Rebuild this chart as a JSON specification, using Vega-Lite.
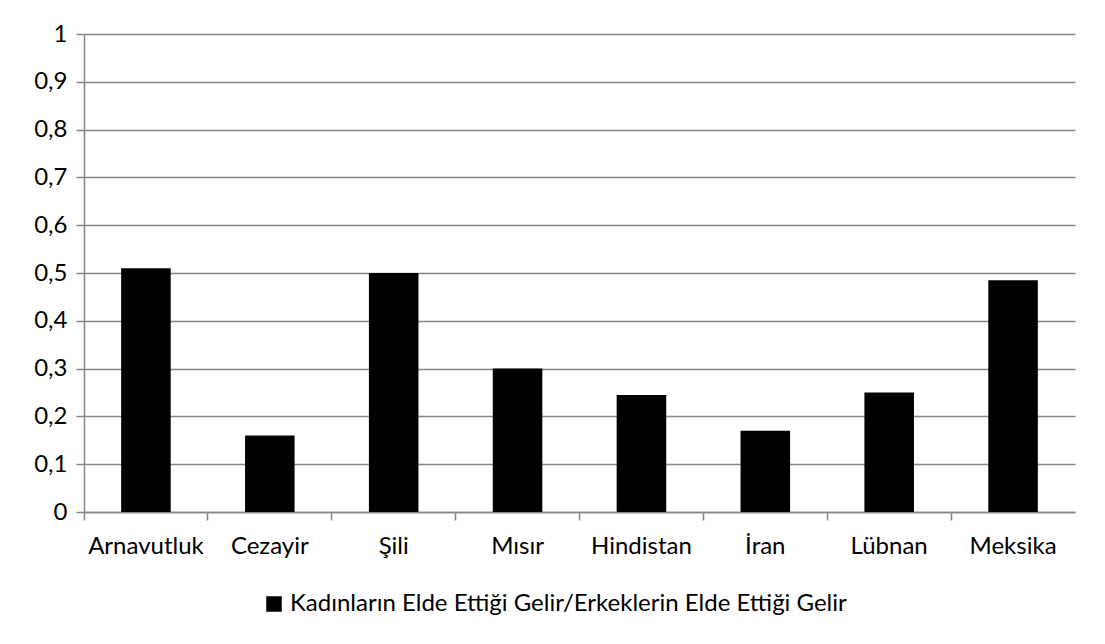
{
  "$schema": "https://vega.github.io/schema/vega-lite/v6.json",
  "width": 991,
  "height": 478,
  "autosize": {"type": "none"},
  "padding": {"left": 84, "top": 34, "right": 30, "bottom": 132},
  "background": "white",
  "data": {
    "values": [
      {"ulke": "Arnavutluk", "deger": 0.51, "seri": "Kadınların Elde Ettiği Gelir/Erkeklerin Elde Ettiği Gelir"},
      {"ulke": "Cezayir", "deger": 0.16, "seri": "Kadınların Elde Ettiği Gelir/Erkeklerin Elde Ettiği Gelir"},
      {"ulke": "Şili", "deger": 0.50, "seri": "Kadınların Elde Ettiği Gelir/Erkeklerin Elde Ettiği Gelir"},
      {"ulke": "Mısır", "deger": 0.30, "seri": "Kadınların Elde Ettiği Gelir/Erkeklerin Elde Ettiği Gelir"},
      {"ulke": "Hindistan", "deger": 0.245, "seri": "Kadınların Elde Ettiği Gelir/Erkeklerin Elde Ettiği Gelir"},
      {"ulke": "İran", "deger": 0.17, "seri": "Kadınların Elde Ettiği Gelir/Erkeklerin Elde Ettiği Gelir"},
      {"ulke": "Lübnan", "deger": 0.25, "seri": "Kadınların Elde Ettiği Gelir/Erkeklerin Elde Ettiği Gelir"},
      {"ulke": "Meksika", "deger": 0.485, "seri": "Kadınların Elde Ettiği Gelir/Erkeklerin Elde Ettiği Gelir"}
    ]
  },
  "mark": {"type": "bar", "width": {"band": 0.4}},
  "encoding": {
    "x": {
      "field": "ulke",
      "type": "nominal",
      "sort": null,
      "scale": {"paddingInner": 0, "paddingOuter": 0},
      "axis": {
        "title": null,
        "labelAngle": 0,
        "bandPosition": 0,
        "labelOffset": 0,
        "ticks": true,
        "tickSize": 8,
        "labelPadding": 14,
        "grid": false
      }
    },
    "y": {
      "field": "deger",
      "type": "quantitative",
      "scale": {"domain": [0, 1], "nice": false},
      "axis": {
        "title": null,
        "values": [0, 0.1, 0.2, 0.3, 0.4, 0.5, 0.6, 0.7, 0.8, 0.9, 1],
        "format": ".1~f",
        "labelExpr": "replace(datum.label, '.', ',')",
        "tickSize": 8,
        "labelPadding": 9,
        "grid": true
      }
    },
    "color": {
      "field": "seri",
      "type": "nominal",
      "scale": {"range": ["#000000"]},
      "legend": {
        "title": null,
        "orient": "none",
        "legendX": 178,
        "legendY": 558,
        "symbolType": "square",
        "symbolSize": 240,
        "symbolStrokeWidth": 0,
        "labelFontSize": 24,
        "labelFont": "Lato",
        "labelColor": "#000000",
        "labelOffset": 4,
        "labelLimit": 0
      }
    }
  },
  "config": {
    "view": {"stroke": null},
    "font": "Lato",
    "axis": {
      "labelFont": "Lato",
      "labelFontSize": 24,
      "labelColor": "#000000",
      "domainColor": "#868686",
      "domainWidth": 1.5,
      "tickColor": "#868686",
      "tickWidth": 1.5,
      "gridColor": "#868686",
      "gridWidth": 1.5,
      "gridOpacity": 1
    }
  }
}
